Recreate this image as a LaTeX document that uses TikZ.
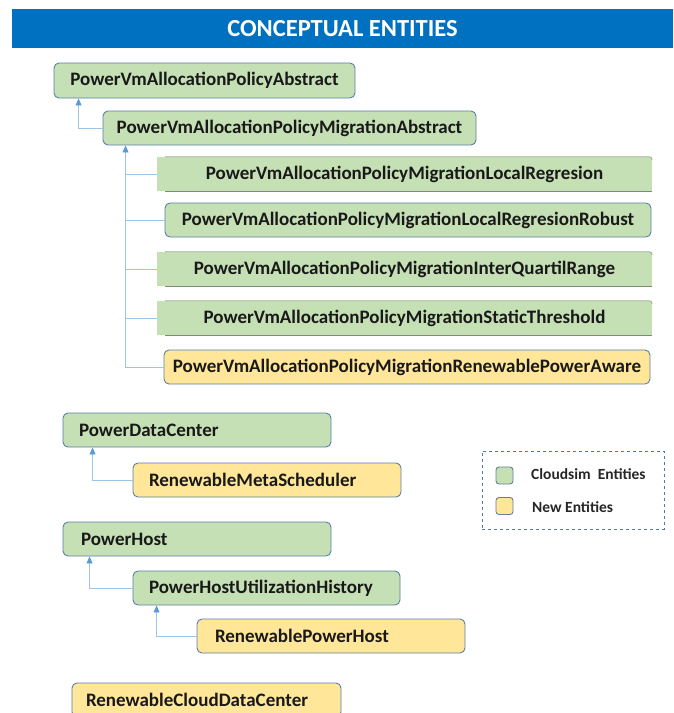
\documentclass[tikz,border=0pt]{standalone}
\usepackage{fontspec}
\setmainfont{Carlito}
\usetikzlibrary{arrows.meta,calc}
\definecolor{barblue}{HTML}{0070C0}
\definecolor{cloudgreen}{HTML}{C5E0B4}
\definecolor{newyellow}{HTML}{FFE699}
\definecolor{edgeblue}{HTML}{5A7EA8}
\definecolor{linkblue}{HTML}{9DC3E6}
\definecolor{tipblue}{HTML}{5B9BD5}
\definecolor{flatedge}{HTML}{9AAE97}
\tikzset{
  boxfont/.style={font=\bfseries\fontsize{19}{19}\selectfont, text=black!90},
  entity/.style={draw=edgeblue, line width=0.9pt, rounded corners=5pt, inner sep=0pt, boxfont},
  cloudsim/.style={entity, fill=cloudgreen},
  newent/.style={entity, fill=newyellow},
  flat/.style={fill=cloudgreen, inner sep=0pt, boxfont},
  lefttext/.style={align=left, inner xsep=16pt},
  link/.style={draw=linkblue, line width=0.9pt},
  inherit/.style={link, -{Triangle[length=7pt,width=6pt,fill=tipblue,color=tipblue]}},
  legendsq/.style={draw=edgeblue!70!gray, line width=0.9pt, rounded corners=3pt, minimum width=17pt, minimum height=17pt, inner sep=0pt},
  legendtxt/.style={anchor=west, inner sep=0pt, font=\bfseries\fontsize{15.5}{15.5}\selectfont, text=black!85}
}
\begin{document}
\begin{tikzpicture}[x=1pt,y=-1pt]
\useasboundingbox (0,0) rectangle (673,713);
\clip (0,0) rectangle (673,713);

% title banner
\node[fill=barblue, minimum width=661pt, minimum height=39pt, inner sep=0pt,
      text=white, font=\bfseries\fontsize{24.5}{24.5}\selectfont] (title) at (342.5,28.5) {CONCEPTUAL ENTITIES};

% VM allocation policy hierarchy
\node[cloudsim, minimum width=301pt, minimum height=35pt] (b1) at (204.5,80.5) {PowerVmAllocationPolicyAbstract};
\node[cloudsim, minimum width=373pt, minimum height=34pt] (b2) at (289.5,128) {PowerVmAllocationPolicyMigrationAbstract};
\node[flat, minimum width=495pt, minimum height=34pt] (b3) at (404.5,174) {PowerVmAllocationPolicyMigrationLocalRegresion};
\node[cloudsim, minimum width=486pt, minimum height=34pt] (b4) at (408,220) {PowerVmAllocationPolicyMigrationLocalRegresionRobust};
\node[flat, minimum width=495pt, minimum height=34pt] (b5) at (404.5,269) {PowerVmAllocationPolicyMigrationInterQuartilRange};
\node[flat, minimum width=495pt, minimum height=34pt] (b6) at (404.5,318) {PowerVmAllocationPolicyMigrationStaticThreshold};
\node[newent, minimum width=486pt, minimum height=34pt] (b7) at (407,367) {PowerVmAllocationPolicyMigrationRenewablePowerAware};

% thin edges on the flat boxes
\foreach \n in {b3,b5,b6}{
  \draw[flatedge, line width=0.8pt] ($(\n.north west)+(8,0)$) -- ($(\n.north east)+(-3,0)$)
        to[out=0,in=90] ($(\n.north east)+(0,3)$);
  \draw[flatedge!80!black, line width=0.8pt] ($(\n.south west)+(8,0)$) -- (\n.south east);
}

\draw[inherit] (b2.west) -| ($(b1.south west)+(25,0)$);
\coordinate (trunk) at ($(b2.south west)+(23,0)$);
\draw[inherit] (b7.west) -| (trunk);
\foreach \n in {b3,b4,b5,b6}{
  \draw[link] (\n.west) -- (\n.west -| trunk);
}

% data center
\node[cloudsim, lefttext, text width=236pt, minimum height=34pt] (pdc) at (197,430) {PowerDataCenter};
\node[newent, lefttext, text width=236pt, minimum height=34pt] (rms) at (267,480) {RenewableMetaScheduler};
\draw[inherit] (rms.west) -| ($(pdc.south west)+(30,0)$);

% hosts
\node[cloudsim, lefttext, inner xsep=18pt, text width=232pt, minimum height=34pt] (ph) at (197,539) {PowerHost};
\node[cloudsim, lefttext, text width=235pt, minimum height=34pt] (phuh) at (266.5,588) {PowerHostUtilizationHistory};
\node[newent, lefttext, inner xsep=18pt, text width=232pt, minimum height=34pt] (rph) at (331,636) {RenewablePowerHost};
\draw[inherit] (phuh.west) -| ($(ph.south west)+(27,0)$);
\draw[inherit] (rph.west) -| ($(phuh.south west)+(24,0)$);

% cloud data center
\node[newent, lefttext, inner xsep=14pt, text width=241pt, minimum height=34pt] (rcdc) at (206.5,700) {RenewableCloudDataCenter};

% legend
\node[draw=tipblue!80!black, dashed, line width=0.9pt, minimum width=182pt, minimum height=78pt, inner sep=0pt] (legend) at (573,490) {};
\node[legendsq, fill=cloudgreen] (lg) at (504.5,475.5) {};
\node[legendsq, fill=newyellow] (ly) at (504.5,506) {};
\node[legendtxt] (lgt) at (531,474) {Cloudsim\ \ Entities};
\node[legendtxt] (lyt) at (532,507) {New Entities};
\end{tikzpicture}
\end{document}
